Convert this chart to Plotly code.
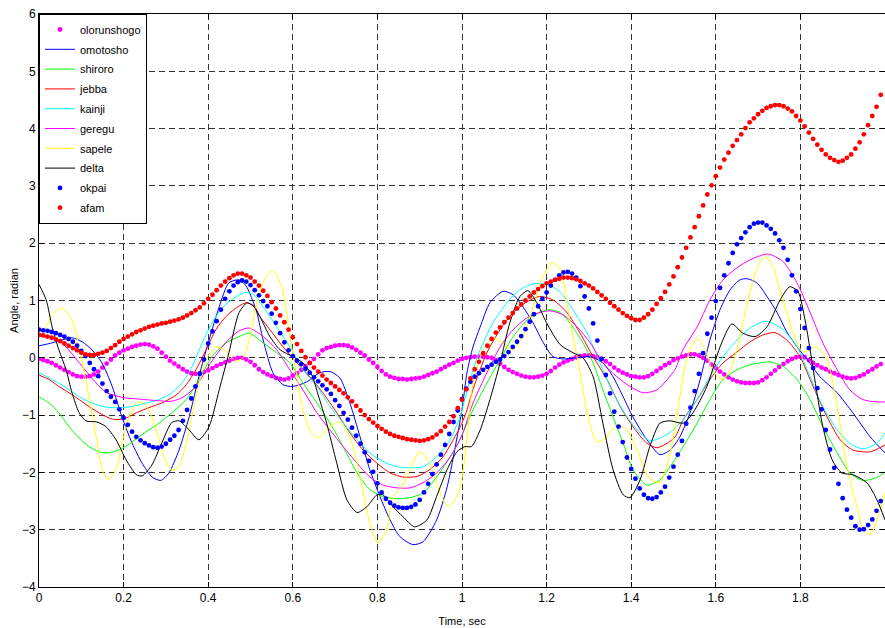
import numpy as np
import plotly.graph_objects as go

# time grid for the sampled (dotted) series, 0.01 s step
t_dense = [round(i * 0.01, 2) for i in range(200)]

olorunshogo = [
    -0.02, -0.04, -0.06, -0.09, -0.13, -0.17, -0.21, -0.25, -0.29, -0.32,
    -0.33, -0.33, -0.32, -0.29, -0.24, -0.17, -0.10, -0.03, 0.04, 0.09,
    0.13, 0.16, 0.19, 0.21, 0.23, 0.24, 0.23, 0.20, 0.16, 0.09,
    0.02, -0.05, -0.10, -0.15, -0.20, -0.24, -0.27, -0.28, -0.27, -0.25,
    -0.22, -0.18, -0.14, -0.11, -0.08, -0.05, -0.02, 0.00, 0.00, -0.03,
    -0.07, -0.13, -0.20, -0.25, -0.29, -0.32, -0.35, -0.37, -0.38, -0.36,
    -0.31, -0.27, -0.21, -0.15, -0.09, -0.02, 0.06, 0.13, 0.17, 0.19,
    0.21, 0.22, 0.22, 0.21, 0.18, 0.14, 0.09, 0.04, -0.03, -0.09,
    -0.16, -0.23, -0.29, -0.33, -0.35, -0.37, -0.37, -0.38, -0.37, -0.36,
    -0.35, -0.33, -0.30, -0.27, -0.24, -0.20, -0.16, -0.12, -0.09, -0.05,
    -0.02, 0.00, 0.01, 0.02, 0.02, 0.02, 0.01, 0.00, -0.04, -0.10,
    -0.16, -0.21, -0.25, -0.28, -0.31, -0.33, -0.34, -0.34, -0.33, -0.31,
    -0.28, -0.23, -0.17, -0.12, -0.08, -0.05, -0.02, 0.01, 0.03, 0.04,
    0.04, 0.03, 0.01, -0.02, -0.06, -0.11, -0.17, -0.22, -0.26, -0.29,
    -0.32, -0.33, -0.34, -0.34, -0.32, -0.28, -0.23, -0.18, -0.13, -0.09,
    -0.04, -0.01, 0.02, 0.04, 0.06, 0.06, 0.04, 0.00, -0.05, -0.12,
    -0.18, -0.24, -0.29, -0.34, -0.38, -0.41, -0.43, -0.44, -0.44, -0.44,
    -0.43, -0.39, -0.34, -0.28, -0.22, -0.16, -0.11, -0.06, -0.02, 0.01,
    0.02, 0.01, -0.04, -0.09, -0.13, -0.17, -0.20, -0.24, -0.27, -0.30,
    -0.33, -0.35, -0.36, -0.35, -0.32, -0.29, -0.24, -0.20, -0.15, -0.11,
]

okpai = [
    0.49, 0.48, 0.47, 0.45, 0.43, 0.40, 0.37, 0.33, 0.28, 0.21,
    0.12, 0.03, -0.09, -0.20, -0.32, -0.45, -0.58, -0.68, -0.77, -0.90,
    -1.05, -1.17, -1.29, -1.38, -1.44, -1.49, -1.53, -1.56, -1.57, -1.55,
    -1.50, -1.43, -1.36, -1.26, -1.10, -0.91, -0.71, -0.50, -0.28, -0.03,
    0.25, 0.46, 0.64, 0.84, 1.03, 1.16, 1.26, 1.32, 1.35, 1.33,
    1.27, 1.18, 1.09, 0.99, 0.90, 0.77, 0.61, 0.43, 0.27, 0.13,
    0.03, -0.05, -0.11, -0.19, -0.26, -0.34, -0.41, -0.48, -0.55, -0.63,
    -0.74, -0.84, -0.96, -1.08, -1.22, -1.36, -1.50, -1.65, -1.80, -1.99,
    -2.19, -2.35, -2.46, -2.53, -2.58, -2.61, -2.62, -2.62, -2.60, -2.56,
    -2.48, -2.35, -2.20, -2.03, -1.86, -1.69, -1.52, -1.33, -1.12, -0.92,
    -0.72, -0.54, -0.42, -0.33, -0.27, -0.21, -0.16, -0.12, -0.07, -0.03,
    0.03, 0.10, 0.19, 0.28, 0.38, 0.50, 0.63, 0.76, 0.90, 1.03,
    1.14, 1.26, 1.36, 1.44, 1.49, 1.50, 1.47, 1.40, 1.25, 1.07,
    0.86, 0.60, 0.30, -0.02, -0.30, -0.62, -0.94, -1.20, -1.47, -1.74,
    -1.94, -2.11, -2.28, -2.39, -2.45, -2.46, -2.43, -2.35, -2.25, -2.09,
    -1.90, -1.69, -1.45, -1.15, -0.87, -0.58, -0.28, 0.08, 0.42, 0.70,
    0.99, 1.22, 1.44, 1.65, 1.83, 1.98, 2.09, 2.19, 2.28, 2.34,
    2.36, 2.36, 2.31, 2.25, 2.17, 2.05, 1.92, 1.71, 1.44, 1.16,
    0.85, 0.52, 0.17, -0.18, -0.53, -0.90, -1.26, -1.60, -1.92, -2.20,
    -2.45, -2.65, -2.79, -2.94, -3.00, -2.99, -2.92, -2.82, -2.67, -2.50,
]

afam = [
    0.40, 0.39, 0.37, 0.35, 0.32, 0.29, 0.25, 0.21, 0.17, 0.13,
    0.09, 0.06, 0.05, 0.05, 0.07, 0.09, 0.12, 0.17, 0.22, 0.28,
    0.33, 0.37, 0.41, 0.45, 0.48, 0.51, 0.54, 0.56, 0.58, 0.60,
    0.61, 0.63, 0.65, 0.67, 0.70, 0.74, 0.78, 0.83, 0.88, 0.95,
    1.03, 1.10, 1.18, 1.26, 1.33, 1.39, 1.44, 1.47, 1.47, 1.44,
    1.40, 1.33, 1.26, 1.17, 1.08, 0.97, 0.86, 0.74, 0.62, 0.49,
    0.36, 0.24, 0.12, 0.01, -0.09, -0.17, -0.24, -0.31, -0.38, -0.44,
    -0.50, -0.56, -0.62, -0.69, -0.76, -0.84, -0.92, -1.00, -1.07, -1.13,
    -1.19, -1.24, -1.29, -1.33, -1.36, -1.38, -1.40, -1.42, -1.43, -1.44,
    -1.45, -1.44, -1.42, -1.39, -1.34, -1.28, -1.20, -1.12, -1.02, -0.88,
    -0.73, -0.55, -0.36, -0.20, -0.07, 0.08, 0.21, 0.33, 0.44, 0.53,
    0.62, 0.70, 0.78, 0.86, 0.93, 1.00, 1.07, 1.14, 1.20, 1.25,
    1.30, 1.33, 1.36, 1.38, 1.40, 1.40, 1.39, 1.37, 1.34, 1.30,
    1.26, 1.21, 1.15, 1.09, 1.03, 0.96, 0.90, 0.84, 0.78, 0.73,
    0.69, 0.66, 0.66, 0.70, 0.76, 0.84, 0.94, 1.04, 1.15, 1.28,
    1.42, 1.58, 1.75, 1.92, 2.10, 2.28, 2.47, 2.66, 2.85, 3.01,
    3.17, 3.32, 3.46, 3.58, 3.70, 3.80, 3.90, 4.01, 4.11, 4.18,
    4.25, 4.31, 4.36, 4.39, 4.41, 4.41, 4.39, 4.35, 4.30, 4.22,
    4.14, 4.04, 3.93, 3.82, 3.72, 3.63, 3.55, 3.49, 3.45, 3.42,
    3.44, 3.49, 3.55, 3.65, 3.76, 3.90, 4.06, 4.22, 4.38, 4.59,
]

# continuous series: (time, angle) points
omotosho = [
    (0, 0.21), (0.031, 0.26), (0.054, 0.31), (0.078, 0.35), (0.102, 0.28), (0.125, 0.14),
    (0.149, -0.09), (0.173, -0.5), (0.196, -1.03), (0.22, -1.49), (0.244, -1.84), (0.267, -2.08),
    (0.288, -2.14), (0.307, -2.01), (0.331, -1.61), (0.355, -1.03), (0.378, -0.33), (0.402, 0.31),
    (0.426, 0.89), (0.449, 1.31), (0.473, 1.36), (0.49, 1.25), (0.505, 1.0), (0.515, 0.79),
    (0.53, 0.31), (0.553, -0.26), (0.577, -0.47), (0.6, -0.50), (0.633, -0.42), (0.664, -0.26),
    (0.688, -0.24), (0.711, -0.35), (0.735, -0.79), (0.759, -1.38), (0.782, -1.95), (0.806, -2.42),
    (0.83, -2.83), (0.853, -3.12), (0.884, -3.26), (0.908, -3.21), (0.94, -2.83), (0.965, -2.25),
    (0.988, -1.40), (1.0, -0.90), (1.012, -0.25), (1.026, 0.19), (1.043, 0.54), (1.066, 0.96),
    (1.097, 1.16), (1.121, 1.10), (1.144, 0.89), (1.168, 0.61), (1.191, 0.28), (1.215, 0.02),
    (1.239, -0.02), (1.272, 0.0), (1.303, 0.02), (1.333, -0.09), (1.357, -0.33), (1.381, -0.68),
    (1.404, -1.03), (1.437, -1.43), (1.468, -1.69), (1.492, -1.61), (1.515, -1.38), (1.539, -0.96),
    (1.563, -0.38), (1.586, 0.31), (1.61, 0.84), (1.634, 1.19), (1.657, 1.36), (1.674, 1.38),
    (1.697, 1.31), (1.721, 1.07), (1.745, 0.79), (1.768, 0.45), (1.792, 0.19), (1.816, -0.03),
    (1.846, -0.33), (1.887, -0.61), (1.924, -0.96), (1.965, -1.38), (2.0, -1.66),
]

shiroro = [
    (0, -0.68), (0.024, -0.79), (0.047, -0.96), (0.071, -1.20), (0.095, -1.40), (0.118, -1.55),
    (0.142, -1.64), (0.161, -1.66), (0.189, -1.61), (0.22, -1.47), (0.253, -1.29), (0.284, -1.14),
    (0.314, -0.96), (0.348, -0.73), (0.378, -0.38), (0.409, 0.02), (0.442, 0.26), (0.473, 0.37),
    (0.497, 0.43), (0.53, 0.26), (0.562, 0.09), (0.593, -0.09), (0.624, -0.44), (0.657, -0.79),
    (0.688, -1.14), (0.719, -1.55), (0.752, -2.01), (0.782, -2.30), (0.813, -2.42), (0.846, -2.46),
    (0.877, -2.44), (0.908, -2.36), (0.94, -2.08), (0.972, -1.73), (0.995, -1.43), (1.026, -0.91),
    (1.059, -0.44), (1.09, -0.03), (1.121, 0.37), (1.154, 0.66), (1.184, 0.80), (1.208, 0.84),
    (1.232, 0.79), (1.255, 0.61), (1.286, 0.26), (1.31, -0.09), (1.333, -0.56), (1.357, -1.03),
    (1.381, -1.49), (1.404, -1.95), (1.437, -2.22), (1.468, -2.13), (1.492, -1.90), (1.523, -1.55),
    (1.556, -1.14), (1.586, -0.73), (1.617, -0.38), (1.65, -0.21), (1.681, -0.12), (1.704, -0.09),
    (1.728, -0.07), (1.759, -0.15), (1.792, -0.38), (1.823, -0.73), (1.853, -1.20), (1.887, -1.66),
    (1.917, -2.01), (1.948, -2.14), (1.981, -2.09), (2.0, -1.99),
]

jebba = [
    (0, -0.30), (0.024, -0.38), (0.047, -0.50), (0.071, -0.61), (0.095, -0.73), (0.118, -0.85),
    (0.142, -0.96), (0.165, -1.05), (0.182, -1.08), (0.206, -1.05), (0.23, -0.96), (0.26, -0.87),
    (0.29, -0.79), (0.324, -0.65), (0.348, -0.47), (0.371, -0.21), (0.395, 0.14), (0.418, 0.49),
    (0.442, 0.72), (0.466, 0.87), (0.489, 0.96), (0.508, 0.91), (0.522, 0.72), (0.546, 0.49),
    (0.577, 0.19), (0.61, -0.09), (0.64, -0.33), (0.671, -0.61), (0.704, -0.96), (0.735, -1.31),
    (0.766, -1.61), (0.799, -1.84), (0.83, -2.01), (0.86, -2.08), (0.894, -2.07), (0.924, -1.95),
    (0.955, -1.73), (0.98, -1.42), (0.995, -1.22), (1.01, -0.95), (1.026, -0.55), (1.059, 0.09),
    (1.09, 0.49), (1.121, 0.79), (1.154, 0.98), (1.184, 1.07), (1.215, 1.01), (1.248, 0.79),
    (1.279, 0.43), (1.31, 0.02), (1.343, -0.38), (1.374, -0.85), (1.404, -1.20), (1.437, -1.49),
    (1.461, -1.57), (1.485, -1.49), (1.504, -1.38), (1.523, -1.08), (1.556, -0.73), (1.586, -0.38),
    (1.617, -0.09), (1.65, 0.10), (1.681, 0.28), (1.712, 0.40), (1.74, 0.44), (1.768, 0.31),
    (1.799, 0.02), (1.83, -0.50), (1.863, -1.03), (1.894, -1.43), (1.924, -1.61), (1.965, -1.64),
    (2.0, -1.52),
]

kainji = [
    (0, -0.26), (0.031, -0.38), (0.064, -0.52), (0.095, -0.68), (0.125, -0.79), (0.158, -0.86),
    (0.189, -0.87), (0.22, -0.85), (0.253, -0.79), (0.284, -0.73), (0.314, -0.61), (0.338, -0.44),
    (0.362, -0.15), (0.386, 0.26), (0.409, 0.61), (0.433, 0.87), (0.466, 1.07), (0.489, 1.14),
    (0.508, 1.10), (0.53, 0.89), (0.562, 0.54), (0.593, 0.19), (0.624, -0.21), (0.657, -0.50),
    (0.688, -0.85), (0.719, -1.14), (0.752, -1.43), (0.782, -1.66), (0.813, -1.81), (0.846, -1.90),
    (0.877, -1.92), (0.908, -1.90), (0.94, -1.73), (0.972, -1.43), (0.995, -1.03), (1.019, -0.38),
    (1.043, 0.14), (1.073, 0.61), (1.106, 0.96), (1.137, 1.19), (1.168, 1.29), (1.2, 1.29),
    (1.232, 1.15), (1.262, 0.84), (1.296, 0.43), (1.326, -0.09), (1.357, -0.61), (1.39, -1.03),
    (1.421, -1.31), (1.444, -1.45), (1.468, -1.40), (1.492, -1.30), (1.523, -1.08), (1.556, -0.73),
    (1.586, -0.33), (1.617, 0.02), (1.65, 0.31), (1.681, 0.52), (1.712, 0.63), (1.728, 0.63),
    (1.759, 0.49), (1.792, 0.19), (1.823, -0.33), (1.853, -0.85), (1.887, -1.26), (1.917, -1.49),
    (1.948, -1.59), (1.981, -1.49), (2.0, -1.31),
]

geregu = [
    (0, 0.38), (0.025, 0.35), (0.054, 0.26), (0.08, 0.05), (0.102, -0.15), (0.135, -0.44),
    (0.158, -0.60), (0.196, -0.69), (0.236, -0.72), (0.284, -0.75), (0.31, -0.76), (0.335, -0.71),
    (0.36, -0.58), (0.378, -0.42), (0.405, -0.10), (0.43, 0.16), (0.45, 0.33), (0.473, 0.47),
    (0.497, 0.52), (0.53, 0.37), (0.562, 0.14), (0.593, -0.21), (0.624, -0.56), (0.657, -0.96),
    (0.688, -1.26), (0.719, -1.55), (0.752, -1.84), (0.782, -2.08), (0.813, -2.22), (0.846, -2.27),
    (0.877, -2.27), (0.908, -2.18), (0.94, -2.01), (0.972, -1.73), (1.0, -1.35), (1.026, -0.79),
    (1.059, -0.26), (1.09, 0.19), (1.121, 0.49), (1.154, 0.70), (1.184, 0.79), (1.208, 0.82),
    (1.239, 0.75), (1.272, 0.54), (1.303, 0.26), (1.333, -0.09), (1.366, -0.33), (1.397, -0.50),
    (1.428, -0.61), (1.461, -0.56), (1.485, -0.38), (1.504, -0.20), (1.523, 0.15), (1.556, 0.54),
    (1.586, 1.01), (1.617, 1.36), (1.65, 1.57), (1.681, 1.71), (1.723, 1.81), (1.759, 1.68),
    (1.792, 1.31), (1.823, 0.79), (1.853, 0.26), (1.887, -0.21), (1.917, -0.56), (1.948, -0.73),
    (1.981, -0.77), (2.0, -0.77),
]

sapele = [
    (0, 0.35), (0.017, 0.54), (0.031, 0.75), (0.054, 0.87), (0.078, 0.66), (0.102, -0.09),
    (0.118, -0.68), (0.135, -1.38), (0.149, -1.95), (0.163, -2.13), (0.182, -1.95), (0.196, -1.49),
    (0.217, -0.96), (0.236, -0.77), (0.255, -0.85), (0.277, -1.26), (0.296, -1.73), (0.314, -1.97),
    (0.331, -1.90), (0.348, -1.49), (0.371, -0.68), (0.395, -0.03), (0.418, 0.19), (0.442, 0.12),
    (0.465, -0.06), (0.482, 0.0), (0.497, 0.30), (0.51, 0.80), (0.522, 1.15), (0.537, 1.42),
    (0.552, 1.52), (0.574, 1.24), (0.593, 0.37), (0.61, -0.33), (0.624, -0.91), (0.64, -1.26),
    (0.66, -1.40), (0.688, -1.20), (0.711, -1.12), (0.735, -1.38), (0.759, -2.08), (0.782, -2.88),
    (0.801, -3.23), (0.822, -3.00), (0.837, -2.42), (0.858, -2.25), (0.877, -1.95), (0.9, -1.64),
    (0.924, -1.84), (0.948, -2.36), (0.967, -2.60), (0.988, -2.42), (1.0, -2.10), (1.012, -1.38),
    (1.026, -0.44), (1.05, 0.14), (1.073, 0.35), (1.097, 0.26), (1.118, 0.14), (1.144, 0.37),
    (1.168, 0.89), (1.191, 1.41), (1.213, 1.66), (1.232, 1.54), (1.255, 0.66), (1.279, -0.26),
    (1.298, -1.03), (1.319, -1.47), (1.343, -1.38), (1.366, -1.17), (1.39, -1.26), (1.414, -1.61),
    (1.44, -2.08), (1.468, -2.18), (1.492, -1.66), (1.508, -1.03), (1.527, -0.15), (1.546, 0.26),
    (1.558, 0.33), (1.574, 0.16), (1.592, -0.21), (1.615, -0.38), (1.638, -0.15), (1.662, 0.54),
    (1.686, 1.31), (1.704, 1.66), (1.719, 1.76), (1.735, 1.59), (1.759, 1.01), (1.783, 0.43),
    (1.806, 0.10), (1.839, 0.19), (1.863, -0.03), (1.887, -0.85), (1.91, -1.90), (1.934, -2.60),
    (1.948, -3.00), (1.965, -3.09), (1.981, -2.83), (2.0, -2.36),
]

delta = [
    (0, 1.28), (0.017, 1.01), (0.031, 0.54), (0.047, 0.14), (0.064, -0.21), (0.078, -0.61),
    (0.095, -0.96), (0.111, -1.10), (0.137, -1.12), (0.158, -1.20), (0.182, -1.43), (0.206, -1.78),
    (0.23, -2.04), (0.244, -2.06), (0.267, -1.87), (0.29, -1.49), (0.314, -1.13), (0.331, -1.10),
    (0.355, -1.26), (0.378, -1.43), (0.402, -1.20), (0.426, -0.56), (0.449, 0.09), (0.473, 0.79),
    (0.492, 0.96), (0.508, 0.89), (0.522, 0.72), (0.546, 0.37), (0.57, 0.14), (0.6, 0.02),
    (0.624, -0.09), (0.645, -0.30), (0.66, -0.65), (0.68, -1.14), (0.704, -1.84), (0.728, -2.48),
    (0.752, -2.70), (0.775, -2.60), (0.799, -2.39), (0.813, -2.39), (0.837, -2.60), (0.86, -2.77),
    (0.888, -2.95), (0.917, -2.83), (0.94, -2.42), (0.965, -1.95), (0.988, -1.64), (1.007, -1.55),
    (1.022, -1.55), (1.043, -1.26), (1.066, -0.73), (1.09, -0.09), (1.113, 0.61), (1.137, 1.07),
    (1.156, 1.17), (1.177, 0.96), (1.2, 0.61), (1.232, 0.23), (1.262, 0.09), (1.286, 0.0),
    (1.31, -0.33), (1.333, -1.14), (1.357, -1.95), (1.381, -2.39), (1.397, -2.44), (1.421, -2.13),
    (1.444, -1.55), (1.468, -1.14), (1.492, -1.10), (1.523, -1.14), (1.546, -0.96), (1.579, -0.50),
    (1.61, 0.19), (1.638, 0.59), (1.664, 0.43), (1.693, 0.37), (1.721, 0.54), (1.752, 1.01),
    (1.775, 1.24), (1.794, 1.16), (1.811, 0.66), (1.823, 0.14), (1.839, -0.61), (1.853, -1.20),
    (1.875, -1.78), (1.898, -2.01), (1.924, -2.04), (1.957, -2.18), (1.981, -2.48), (2.0, -2.83),
]

x_ticks = [0, 0.2, 0.4, 0.6, 0.8, 1.0, 1.2, 1.4, 1.6, 1.8]
x_tick_text = ["0", "0.2", "0.4", "0.6", "0.8", "1", "1.2", "1.4", "1.6", "1.8"]
y_ticks = [-4, -3, -2, -1, 0, 1, 2, 3, 4, 5, 6]

FONT = "Liberation Sans, Arial, sans-serif"

fig = go.Figure()


def add_dots(name, values, color):
    fig.add_trace(go.Scatter(
        x=t_dense, y=values, mode="markers", name=name, legendgroup=name,
        marker=dict(color=color, size=4.8, line=dict(width=0)),
    ))


def add_line(name, pts, color):
    xs = [p[0] for p in pts]
    ys = [p[1] for p in pts]
    fig.add_trace(go.Scatter(
        x=xs, y=ys, mode="lines", name=name, legendgroup=name,
        line=dict(color=color, width=1, shape="spline", smoothing=0.7),
    ))


add_dots("olorunshogo", olorunshogo, "#FF00FF")
add_line("omotosho", omotosho, "#0000FF")
add_line("shiroro", shiroro, "#00FF00")
add_line("jebba", jebba, "#FF0000")
add_line("kainji", kainji, "#00FFFF")
add_line("geregu", geregu, "#FF00FF")
add_line("sapele", sapele, "#FFFF00")
add_line("delta", delta, "#000000")
add_dots("okpai", okpai, "#0000FF")
add_dots("afam", afam, "#FF0000")

axis_common = dict(
    showline=True, linecolor="black", linewidth=1, mirror="ticks",
    ticks="inside", ticklen=5, tickcolor="black",
    showgrid=True, gridcolor="#333333", gridwidth=1, griddash="6px,4px",
    zeroline=False,
    tickfont=dict(family=FONT, size=12, color="black"),
)

fig.update_xaxes(
    range=[0, 2], tickvals=x_ticks, ticktext=x_tick_text,
    title=dict(text="Time, sec", font=dict(family=FONT, size=11, color="black"), standoff=12),
    **axis_common,
)
fig.update_yaxes(
    range=[-4, 6], tickvals=y_ticks,
    title=dict(text="Angle, radian", font=dict(family=FONT, size=11, color="black"), standoff=1),
    **axis_common,
)

fig.update_layout(
    width=885, height=628,
    margin=dict(l=39, r=0, t=14, b=41, autoexpand=False),
    paper_bgcolor="white", plot_bgcolor="white",
    showlegend=True,
    legend=dict(
        x=0, y=1, xanchor="left", yanchor="top",
        bgcolor="white", bordercolor="black", borderwidth=1,
        font=dict(family=FONT, size=11, color="black"),
        itemwidth=30, tracegroupgap=0.8,
    ),
)

fig.write_html(
    "out.html",
    config={"displayModeBar": False},
    post_script="document.body.style.margin='0';document.body.style.overflow='hidden';",
)
